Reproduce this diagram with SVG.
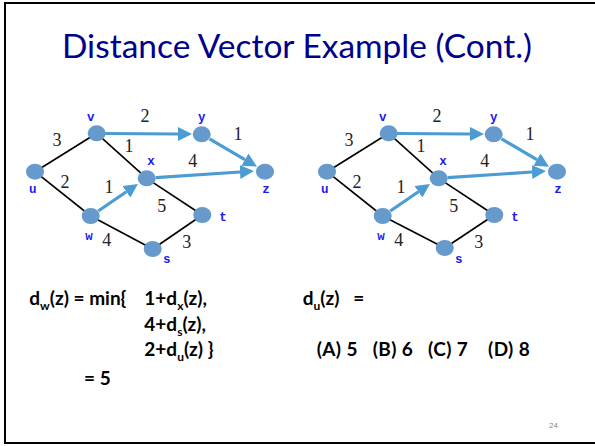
<svg xmlns="http://www.w3.org/2000/svg" xmlns:xlink="http://www.w3.org/1999/xlink" width="595" height="446" viewBox="0 0 595 446">
<style>
.frame{fill:#fff;stroke:#000;stroke-width:2}
.title{font-family:Lato,"Liberation Sans",sans-serif;font-size:32px;fill:#00008b}
.node{fill:#6699cc}
.lbl{font-family:"Liberation Mono",monospace;font-weight:bold;font-size:12.5px;fill:#1a1aee;text-anchor:middle}
.wt{font-family:"Liberation Serif",serif;font-size:18px;fill:#222;text-anchor:middle}
.edge{stroke:#000;stroke-width:1.6;fill:none}
.arr{stroke:#4b9cd3;stroke-width:3.2;fill:none;marker-end:url(#ah)}
.eq{font-family:Lato,"Liberation Sans",sans-serif;font-weight:bold;font-size:19px;fill:#000}
.sub{font-size:12px}
.pg{font-family:"Liberation Sans",sans-serif;font-size:8px;fill:#888}
</style>
<defs>
<marker id="ah" viewBox="0 0 14 14" markerUnits="userSpaceOnUse" markerWidth="14" markerHeight="14" refX="0" refY="7" orient="auto">
<path d="M0,0 L14,7 L0,14 z" fill="#4b9cd3"/>
</marker>
</defs>
<rect class="frame" x="5" y="3" width="600" height="440"/>
<text class="title" x="62" y="58" textLength="470" lengthAdjust="spacingAndGlyphs">Distance Vector Example (Cont.)</text>

<g id="graph-left">
<g id="connectors-left">
<line class="edge" x1="35" y1="171.7" x2="96.7" y2="133.3"/>
<line class="edge" x1="96.7" y1="133.3" x2="146.7" y2="178.3"/>
<line class="edge" x1="35" y1="171.7" x2="90.7" y2="216"/>
<line class="edge" x1="90.7" y1="216" x2="152.7" y2="249"/>
<line class="edge" x1="152.7" y1="249" x2="202.3" y2="215"/>
<line class="edge" x1="146.7" y1="178.3" x2="202.3" y2="215"/>
<line class="arr" x1="105" y1="133.5" x2="178" y2="134"/>
<line class="arr" x1="209.5" y1="138.9" x2="244.9" y2="159.6"/>
<line class="arr" x1="155.7" y1="177.7" x2="240" y2="172"/>
<line class="arr" x1="98.3" y1="211" x2="126.4" y2="191.8"/>
<text class="wt" x="57" y="145.5">3</text>
<text class="wt" x="145" y="121.5">2</text>
<text class="wt" x="238" y="140">1</text>
<text class="wt" x="129" y="151.5">1</text>
<text class="wt" x="192.7" y="166.5">4</text>
<text class="wt" x="65" y="188">2</text>
<text class="wt" x="109" y="193">1</text>
<text class="wt" x="161.7" y="211.5">5</text>
<text class="wt" x="106.7" y="245.5">4</text>
<text class="wt" x="186.7" y="247.5">3</text>
</g>
<g id="L-u"><ellipse class="node" cx="35" cy="171.7" rx="9" ry="8"/><text class="lbl" x="32.7" y="192.5">u</text></g>
<g id="L-v"><ellipse class="node" cx="96.7" cy="133.3" rx="9" ry="8"/><text class="lbl" x="90.7" y="121">v</text></g>
<g id="L-y"><ellipse class="node" cx="201.7" cy="134.3" rx="9" ry="8"/><text class="lbl" x="201.7" y="121">y</text></g>
<g id="L-x"><ellipse class="node" cx="146.7" cy="178.3" rx="9" ry="8"/><text class="lbl" x="151" y="165">x</text></g>
<g id="L-z"><ellipse class="node" cx="265" cy="171.7" rx="9" ry="8"/><text class="lbl" x="266" y="193">z</text></g>
<g id="L-w"><ellipse class="node" cx="90.7" cy="216" rx="9" ry="8"/><text class="lbl" x="89" y="240">w</text></g>
<g id="L-t"><ellipse class="node" cx="202.3" cy="215" rx="9" ry="8"/><text class="lbl" x="223" y="220.5">t</text></g>
<g id="L-s"><ellipse class="node" cx="152.7" cy="249" rx="9" ry="8"/><text class="lbl" x="166.7" y="263">s</text></g>
</g>

<g id="graph-right" transform="translate(292,0)">
<g id="connectors-right">
<line class="edge" x1="35" y1="171.7" x2="96.7" y2="133.3"/>
<line class="edge" x1="96.7" y1="133.3" x2="146.7" y2="178.3"/>
<line class="edge" x1="35" y1="171.7" x2="90.7" y2="216"/>
<line class="edge" x1="90.7" y1="216" x2="152.7" y2="248"/>
<line class="edge" x1="152.7" y1="248" x2="202.3" y2="215"/>
<line class="edge" x1="146.7" y1="178.3" x2="202.3" y2="215"/>
<line class="arr" x1="105" y1="133.5" x2="178" y2="134"/>
<line class="arr" x1="209.5" y1="138.9" x2="244.9" y2="159.6"/>
<line class="arr" x1="155.7" y1="177.7" x2="240" y2="172"/>
<line class="arr" x1="98.3" y1="211" x2="126.4" y2="191.8"/>
<text class="wt" x="57" y="145.5">3</text>
<text class="wt" x="145" y="121.5">2</text>
<text class="wt" x="238" y="140">1</text>
<text class="wt" x="129" y="151.5">1</text>
<text class="wt" x="192.7" y="166.5">4</text>
<text class="wt" x="65" y="188">2</text>
<text class="wt" x="109" y="193">1</text>
<text class="wt" x="161.7" y="211.5">5</text>
<text class="wt" x="106.7" y="245.5">4</text>
<text class="wt" x="186.7" y="247.5">3</text>
</g>
<g id="R-u"><ellipse class="node" cx="35" cy="171.7" rx="9" ry="8"/><text class="lbl" x="32.7" y="192.5">u</text></g>
<g id="R-v"><ellipse class="node" cx="96.7" cy="133.3" rx="9" ry="8"/><text class="lbl" x="90.7" y="121">v</text></g>
<g id="R-y"><ellipse class="node" cx="201.7" cy="134.3" rx="9" ry="8"/><text class="lbl" x="201.7" y="121">y</text></g>
<g id="R-x"><ellipse class="node" cx="146.7" cy="178.3" rx="9" ry="8"/><text class="lbl" x="151" y="165">x</text></g>
<g id="R-z"><ellipse class="node" cx="265" cy="171.7" rx="9" ry="8"/><text class="lbl" x="266" y="193">z</text></g>
<g id="R-w"><ellipse class="node" cx="90.7" cy="216" rx="9" ry="8"/><text class="lbl" x="89" y="240">w</text></g>
<g id="R-t"><ellipse class="node" cx="202.3" cy="215" rx="9" ry="8"/><text class="lbl" x="223" y="220.5">t</text></g>
<g id="R-s"><ellipse class="node" cx="152.7" cy="248" rx="9" ry="8"/><text class="lbl" x="166.7" y="263">s</text></g>
</g>

<g id="equations">
<text class="eq" x="29.3" y="305">d<tspan class="sub" dy="5">w</tspan><tspan dy="-5">(z) = min{</tspan></text>
<text class="eq" x="144.3" y="305">1+d<tspan class="sub" dy="5">x</tspan><tspan dy="-5">(z),</tspan></text>
<text class="eq" x="144.3" y="330.7">4+d<tspan class="sub" dy="5">s</tspan><tspan dy="-5">(z),</tspan></text>
<text class="eq" x="144.3" y="356">2+d<tspan class="sub" dy="5">u</tspan><tspan dy="-5">(z) }</tspan></text>
<text class="eq" x="84" y="385">= 5</text>
<text class="eq" x="302.7" y="305">d<tspan class="sub" dy="5">u</tspan><tspan dy="-5" xml:space="preserve">(z)   =</tspan></text>
<text class="eq" x="316.7" y="356" xml:space="preserve" textLength="213" lengthAdjust="spacing">(A) 5   (B) 6   (C) 7    (D) 8</text>
</g>
<text class="pg" x="549" y="428">24</text>
</svg>
